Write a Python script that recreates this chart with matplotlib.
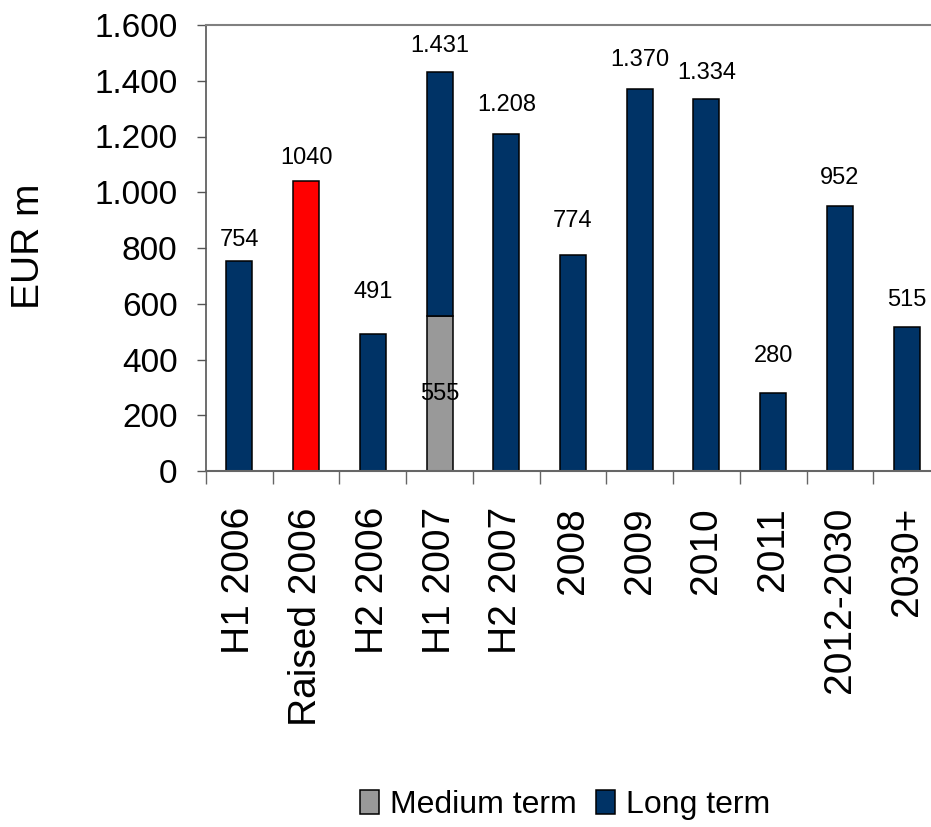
import matplotlib.pyplot as plt
import numpy as np

# funding profile, EUR m
periods = ['H1 2006', 'Raised 2006', 'H2 2006', 'H1 2007', 'H2 2007', '2008',
           '2009', '2010', '2011', '2012-2030', '2030+']
medium_term = [0, 0, 0, 555, 0, 0, 0, 0, 0, 0, 0]
long_term = [754, 0, 491, 876, 1208, 774, 1370, 1334, 280, 952, 515]
raised = [0, 1040, 0, 0, 0, 0, 0, 0, 0, 0, 0]

# vertical gap (px) between bar top and its value label
label_gap = [21, 23, 42, 26, 29, 34, 29, 26, 37, 28, 27]

font = ['Liberation Sans', 'DejaVu Sans']

NAVY = '#003366'
GREY = '#999999'


def dotted(v):
    return '{:,}'.format(int(v)).replace(',', '.')


fig = plt.figure(figsize=(9.31, 8.27), dpi=100)
ax = fig.add_axes([206/931, 356/827, 734/931, 446/827])

x = np.arange(len(periods))
medium_term = np.array(medium_term)
long_term = np.array(long_term)
raised = np.array(raised)
w = 0.39

m = medium_term > 0
ax.bar(x[m], medium_term[m], w, color=GREY, edgecolor='black', linewidth=1.1,
       label='Medium term')
m = long_term > 0
ax.bar(x[m], long_term[m], w, bottom=medium_term[m], color=NAVY,
       edgecolor='black', linewidth=1.1, label='Long term')
m = raised > 0
ax.bar(x[m], raised[m], w, color='red', edgecolor='black', linewidth=1.1)

total = medium_term + long_term + raised
for i in range(len(periods)):
    txt = str(total[i]) if raised[i] > 0 else dotted(total[i])
    ax.annotate(txt, (x[i], total[i]), xytext=(0, label_gap[i] * 0.72),
                textcoords='offset points', ha='center', va='center',
                fontsize=17, family=font)
    if medium_term[i] > 0:
        ax.text(x[i], medium_term[i] / 2, str(medium_term[i]), ha='center',
                va='center', fontsize=17, family=font)

ax.set_xlim(-0.5, len(periods) - 0.5)
ax.set_ylim(0, 1600)
yt = np.arange(0, 1601, 200)
ax.set_yticks(yt)
ax.set_yticklabels([dotted(v) for v in yt], fontsize=24, family=font)
ax.tick_params(axis='y', direction='out', length=6.5, width=1, color='#555555',
               pad=14)

ax.set_xticks(x)
ax.set_xticklabels(periods, rotation=90, fontsize=28, family=font,
                   va='top', ha='center')
ax.tick_params(axis='x', which='major', length=0, pad=26)
ax.set_xticks(np.arange(-0.5, len(periods), 1), minor=True)
ax.tick_params(axis='x', which='minor', direction='out', length=9, width=1,
               color='#666666')

fig.text(29/931, 1 - 246/827, 'EUR m', rotation=90, ha='center', va='center',
         fontsize=28, family=font)

ax.spines['top'].set_color('#808080')
ax.spines['top'].set_linewidth(1.5)
ax.spines['left'].set_color('#555555')
ax.spines['left'].set_linewidth(1.2)
ax.spines['bottom'].set_color('#666666')
ax.spines['bottom'].set_linewidth(1.5)
ax.spines['right'].set_visible(False)

fig.legend(loc='center', bbox_to_anchor=(565/931, 1 - 805/827), ncol=2,
           frameon=False, prop={'family': font, 'size': 23},
           handlelength=0.6, handleheight=0.75, handletextpad=0.35,
           columnspacing=0.6, borderpad=0, borderaxespad=0)

plt.savefig('out.png', dpi=100)
